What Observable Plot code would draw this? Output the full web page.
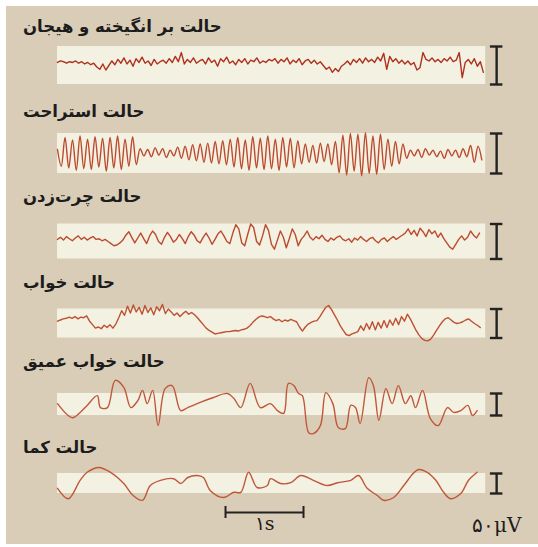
<!DOCTYPE html>
<html><head><meta charset="utf-8">
<script src="https://cdn.jsdelivr.net/npm/d3@7"></script>
<script src="https://cdn.jsdelivr.net/npm/@observablehq/plot@0.6"></script>
<style>
body{margin:0;background:#fff;}
#wrap{position:relative;width:538px;height:547px;overflow:hidden;background:#fff}
#paper{position:absolute;left:6px;top:6px;width:532px;height:538px;background:#d9cdb7}
.title{position:absolute;left:23px;direction:rtl;font-family:"DejaVu Sans",sans-serif;font-weight:bold;font-size:16.5px;line-height:20px;color:#1c1c1c;white-space:nowrap}
.plot{position:absolute;left:0}
</style></head><body><div id="wrap"><div id="paper"></div></div>
<script>
// ---- data ----
const titles = ["حالت بر انگیخته و هیجان","حالت استراحت","حالت چرت‌زدن","حالت خواب","حالت خواب عمیق","حالت کما"];
// trace durations in seconds
const durations = [5.46, 5.44, 5.41, 5.42, 5.38, 5.38];
// µV, evenly sampled
const excited = [4,6,5,3,5,4,6,3,5,2,4,1,3, -2,-5,2,-6,0,
 6,1,8,3,10,2,7,-1,9,4,11,3,6,0,8,2,5, 7,3,9,4,12,5,17,2,8,4,10,3,6,
 8,2,10,4,7,-1,9,5,11,3,6,1,8,4,9,2,7,5,10,3,6,4,8, 6,9,3,8,5,10,2,7,4,9,1,6,8,3,7,2,5,
 0,-5,-2,-9,-4,-8,-1, 2,6,1,8,4,9,3,10,5,8,4,11,6, 16,-5,12, 5,9,3,7,2,6,1,4,-6,-3, 17,8,
 6,10,5,8,4,9,6,11,5,7, 17,-16,4, 8,2,9,-1,5,-9];
const rest = [5,-16,20,-18,17,-21,22,-19,18,-20,21,-17,19,-22,20,-18,22,-20,18,-16,21,-14,
 6,-3,5,-4,7,-2,6,-5,4,-3, 8,-6,9,-8,11,-9,12,-11,13,-12,15,-13,16,-14,
 18,-17,20,-19,17,-21,21,-18,19,-20,22,-19,18,-21,20,-17,19,-18,16,
 -13,12,-11,10,-12,13,-10,12,-14,15, -24,23,-27,25,-22,24,-28,26,-25,22,-26,24,-20,
 18,-16,15,-13,12, -6,4,-3,5,-5,6,-2,4,-4,3,-6,5,-3,4,-5,6,-4, 10,-11,9,-8];
const drowsy = [3,6,2,7,4,1,5,8,3,6,2,5,7,3,4,1,3,0, -3,-6,-5,-2,
 2,9,14,6,-2,5,12,4,-3,8,15,10,0,-4,6,13,7,-1,3,10,4,-3,7,14,9,1,-2,6,12,5,-4,3,11,15,8,0,
 -3,12,24,18,-2,-6,10,25,20,0,-5,8,24,16,-4, -11,2,15,6,-9,4,18,10,-6,3,
 8,15,6,2,7,4,9,3,0,5,2,6,8,3,1,4,-1,5,2,7,3,0,4,6,1,-2,3,5,0,4,7,3,6,9,
 12,18,10,16,8,19,14,7,17,11,15,6,12,4,-2,-8, -11,-4, 3,8,2,6,15,9,5,12];
const sleep = [4,6,8,9, 11,9,12,8,11,10,13, 4,-2,-8,-6,-9, -3,-7,-2,-8,-1,
 10,22,14,30,18,32,20,28,16,31,19,27,15,29,22,33,17,25, 20,14,18,12,17,21,16,19,15,
 10,4,-2,-8,-12,-15,-18,-17, -16,-15,-14,-14,-13,-12,-13,-11,-10,-8, -4,2,7,11,13,12, 10,12,
 8,5,7,3,6,4,7,5,3, -6,-13, -6,-1,2,4,5, 12,20,28,31, 24,15,6,-4,-12,-19,-21, -18,-16,-14,
 -4,-12,0,-10,3,-11,2,-8,5,-7,6,-3,9,-2,12,4, 16, 8,-2,-12,-20,-26,-29,-30,
 -27,-20,-12,-4,3,8,10, 6,2,0,1,3,6,8,4,0,-3,-7];
// deep sleep & coma: time (s) / µV pairs
const deepT = [0,0.19,0.29,0.38,0.51,0.55,0.64,0.74,0.85,0.94,1.03,1.09,1.15,1.22,1.29,1.38,1.47,1.58,1.67,1.83,2.00,2.18,2.26,2.35,2.47,2.60,2.73,2.82,2.90,2.96,3.03,3.09,3.14,3.22,3.28,3.37,3.44,3.53,3.60,3.69,3.76,3.82,3.88,3.99,4.05,4.12,4.21,4.29,4.37,4.46,4.53,4.59,4.68,4.78,4.88,5.00,5.08,5.17,5.26,5.32,5.38];
const deepV = [2,-30,-18,-2,20,-7,-7,55,39,-7,9,32,2,32,-48,36,43,-14,-7,5,16,25,14,-7,48,-7,2,-14,-20,48,43,25,20,-64,-66,-48,27,2,-52,-55,-2,-7,-43,61,43,-36,36,2,43,2,20,-7,32,-32,-48,-7,-18,-14,-2,-25,-14];
const comaT = [0,0.14,0.29,0.38,0.53,0.68,0.85,0.97,1.09,1.19,1.32,1.49,1.58,1.67,1.79,1.87,1.96,2.13,2.26,2.35,2.45,2.56,2.69,2.73,2.86,2.99,3.12,3.28,3.46,3.59,3.76,3.86,3.97,4.10,4.18,4.31,4.44,4.56,4.63,4.74,4.85,4.95,5.04,5.17,5.27,5.38];
const comaV = [-12,-38,8,28,40,28,0,-30,-42,-5,8,12,0,15,20,15,-18,-35,-22,-22,28,-10,-5,12,0,2,20,8,-5,2,8,20,-12,-30,-42,-35,-5,25,35,28,8,-22,-38,-25,8,28];
const scaleBarUV = 50;   // vertical bars
const timeBarS = 1;      // horizontal bar
const uvLabel = "۵۰μV", sLabel = "۱s";

// ---- layout ----
const W = 538, PX_PER_S = 78, LEFT = 57;
const X0 = -LEFT / PX_PER_S, X1 = (W - LEFT) / PX_PER_S;
const centers = [65, 153, 240.5, 322.5, 404, 483];
const gains = [0.76, 0.80, 0.70, 0.58, 0.44, 0.40]; // px per µV
const titleTops = [17, 102, 187, 273, 352, 438];
const colors = ["#b0301e","#bc4a2e","#bc4a2e","#bf5033","#c1573a","#c1573a"];
const bandEnd = 5.49, barT = 5.63, capHalf = 0.08;

function evenly(vals, dur){ return vals.map((v,i)=>({t: i*dur/(vals.length-1), v})); }
function pairs(ts, vs){ return ts.map((t,i)=>({t, v: vs[i]})); }
const series = [
  evenly(excited, durations[0]), evenly(rest, durations[1]), evenly(drowsy, durations[2]),
  evenly(sleep, durations[3]), pairs(deepT, deepV), pairs(comaT, comaV)
];
const curves = ["linear","catmull-rom","linear","linear","catmull-rom","catmull-rom"];

const wrap = document.getElementById("wrap");
series.forEach((data, i) => {
  const half = 50 / gains[i];
  const p = Plot.plot({
    width: W, height: 100, margin: 0,
    x: {domain: [X0, X1], axis: null},
    y: {domain: [-half, half], axis: null},
    style: {background: "transparent", overflow: "visible"},
    marks: [
      Plot.rect([0], {x1: 0, x2: bandEnd, y1: -scaleBarUV/2, y2: scaleBarUV/2, fill: "#f2f1e2"}),
      Plot.line(data, {x: "t", y: "v", stroke: colors[i], strokeWidth: 1.4, curve: curves[i], strokeLinejoin: "round"}),
      Plot.ruleX([barT], {y1: -scaleBarUV/2, y2: scaleBarUV/2, stroke: "#222", strokeWidth: 2.4}),
      Plot.ruleY([-scaleBarUV/2, scaleBarUV/2], {x1: barT - capHalf, x2: barT + capHalf, stroke: "#222", strokeWidth: 2.4})
    ]
  });
  p.classList.add("plot");
  p.style.top = (centers[i] - 50) + "px";
  wrap.appendChild(p);
  const d = document.createElement("div");
  d.className = "title"; d.textContent = titles[i]; d.style.top = titleTops[i] + "px";
  wrap.appendChild(d);
});

// footer: time scale bar and amplitude label
const t0 = 2.154;
const foot = Plot.plot({
  width: W, height: 50, margin: 0,
  x: {domain: [X0, X1], axis: null},
  y: {domain: [0, 50], range: [0, 50], axis: null},
  style: {background: "transparent", overflow: "visible"},
  marks: [
    Plot.ruleY([22], {x1: t0, x2: t0 + timeBarS, stroke: "#222", strokeWidth: 2}),
    Plot.ruleX([t0, t0 + timeBarS], {y1: 16, y2: 28, stroke: "#222", strokeWidth: 2}),
    Plot.text([sLabel], {x: t0 + timeBarS/2, y: 33, text: d => d, fontSize: 19, fontFamily: "DejaVu Serif", fill: "#1c1c1c"}),
    Plot.text([uvLabel], {x: barT, y: 35, text: d => d, fontSize: 20, fontFamily: "DejaVu Serif", fill: "#1c1c1c"})
  ]
});
foot.classList.add("plot");
foot.style.top = "490px";
wrap.appendChild(foot);
</script>
</body></html>
